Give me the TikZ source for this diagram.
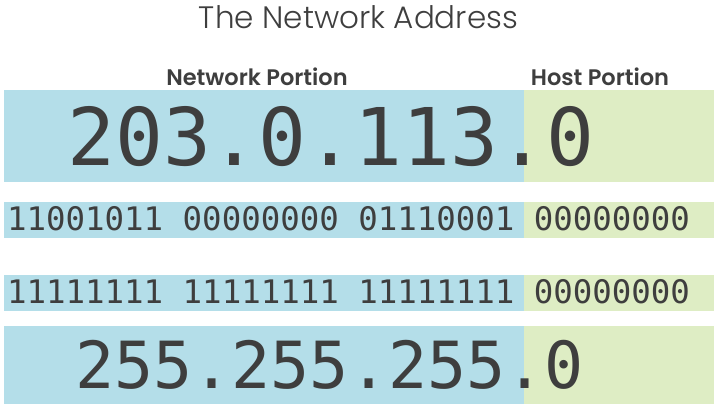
\documentclass[tikz,border=0pt]{standalone}
\usepackage{fontspec}
\usetikzlibrary{positioning}
\newfontfamily\titlefont{Poppins}[UprightFont=* Light]
\newfontfamily\labelfont{Poppins}[UprightFont=* SemiBold]
\newfontfamily\digitfont{DejaVu Sans Mono}
\definecolor{netblue}{RGB}{180,222,233}
\definecolor{hostgreen}{RGB}{222,237,196}
\definecolor{inkgray}{RGB}{62,62,62}

\begin{document}
\begin{tikzpicture}[
    x=1pt, y=-1pt,
    % Define cell styles
    cell/.style={inner sep=0pt, outer sep=0pt, anchor=north west},
    netcell/.style={cell, fill=netblue, minimum width=520pt},
    hostcell/.style={cell, fill=hostgreen, minimum width=190pt},
    % Text styles
    digits/.style={inner sep=0pt, anchor=base west, text=inkgray},
    bigdigits/.style={digits, font=\digitfont\fontsize{79.6}{80}\selectfont},
    middigits/.style={digits, font=\digitfont\fontsize{65}{66}\selectfont},
    bitdigits/.style={digits, font=\digitfont\fontsize{32.4}{33}\selectfont},
    heading/.style={inner sep=0pt, anchor=base, text=inkgray}
]
    \useasboundingbox (0,0) rectangle (719,407);

    % --- HEADINGS ---
    \node[heading, font=\titlefont\fontsize{31}{36}\selectfont] (title) at (358.5,28) {The Network Address};
    \node[heading, font=\labelfont\fontsize{22.5}{26}\selectfont] (netlabel) at (257,85) {Network Portion};
    \node[heading, font=\labelfont\fontsize{22.5}{26}\selectfont] (hostlabel) at (600,85) {Host Portion};

    % --- CELLS ---
    \node[netcell, minimum height=92pt] (net1) at (4,90) {};
    \node[hostcell, minimum height=92pt, right=0pt of net1] (host1) {};
    \node[netcell, minimum height=36pt] (net2) at (4,202) {};
    \node[hostcell, minimum height=36pt, right=0pt of net2] (host2) {};
    \node[netcell, minimum height=36pt] (net3) at (4,275) {};
    \node[hostcell, minimum height=36pt, right=0pt of net3] (host3) {};
    \node[netcell, minimum height=78pt] (net4) at (4,326) {};
    \node[hostcell, minimum height=78pt, right=0pt of net4] (host4) {};

    % --- VALUES ---
    \node[bigdigits] (address) at (67,165) {203.0.113.0};
    \node[bitdigits] (addrbits) at (7,230) {11001011 00000000 01110001 00000000};
    \node[bitdigits] (maskbits) at (7,303) {11111111 11111111 11111111 00000000};
    \node[middigits] (mask) at (75,388) {255.255.255.0};

\end{tikzpicture}
\end{document}
